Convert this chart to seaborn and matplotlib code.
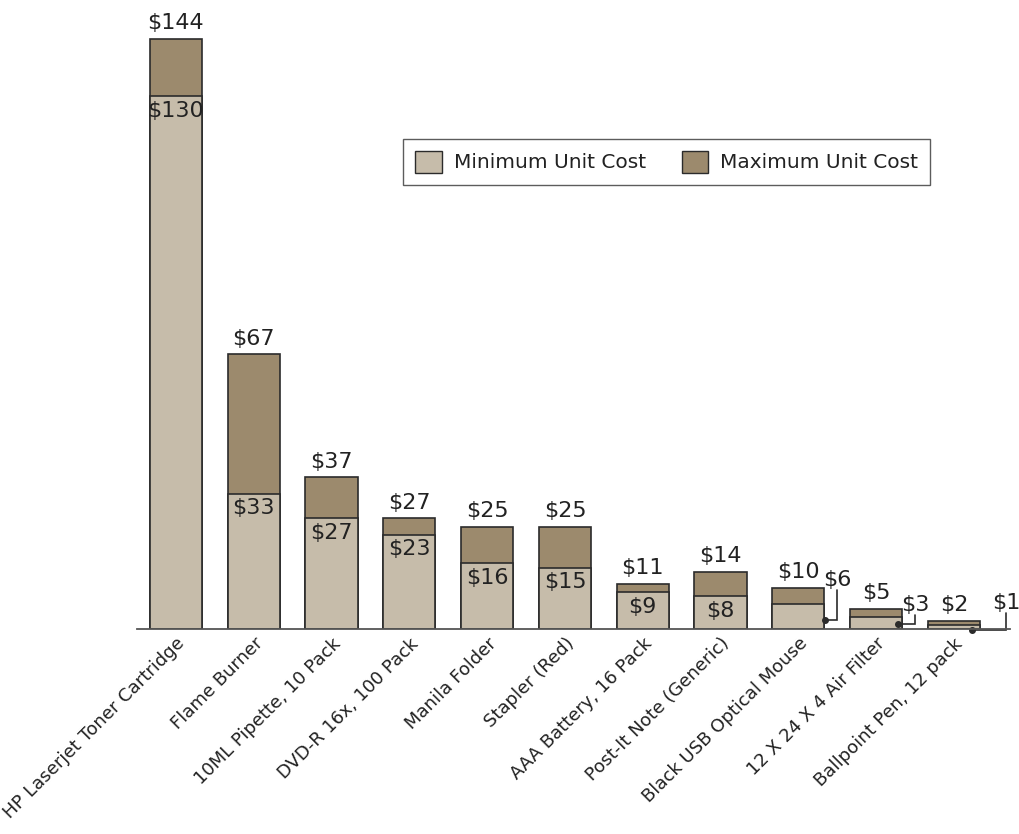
import matplotlib
matplotlib.use("Agg")
import matplotlib.pyplot as plt
import seaborn as sns
import pandas as pd
from matplotlib.patches import Patch

items = ["HP Laserjet Toner Cartridge", "Flame Burner", "10ML Pipette, 10 Pack",
         "DVD-R 16x, 100 Pack", "Manila Folder", "Stapler (Red)", "AAA Battery, 16 Pack",
         "Post-It Note (Generic)", "Black USB Optical Mouse", "12 X 24 X 4 Air Filter",
         "Ballpoint Pen, 12 pack"]
min_cost = [130, 33, 27, 23, 16, 15, 9, 8, 6, 3, 1]
max_cost = [144, 67, 37, 27, 25, 25, 11, 14, 10, 5, 2]

df = pd.DataFrame({"item": items, "min": min_cost, "max": max_cost})

sns.set_style("white")
plt.rcParams["font.family"] = ["DejaVu Sans"]

MIN_C = "#C6BCAA"
MAX_C = "#9C8A6D"
EDGE = "#2b2b2b"
TXT = "#222222"

fig = plt.figure(figsize=(10.2, 8.34), dpi=100)
ax = fig.add_axes([137 / 1020, 205 / 834, 873 / 1020, 624 / 834])

sns.barplot(data=df, x="item", y="max", color=MAX_C, width=0.67, edgecolor=EDGE,
            linewidth=1.2, saturation=1, ax=ax)
sns.barplot(data=df, x="item", y="min", color=MIN_C, width=0.67, edgecolor=EDGE,
            linewidth=1.2, saturation=1, ax=ax)

ax.set_xlim(-0.5, 10.72)
ax.set_ylim(0, 152.3)
ax.set_xlabel("")
ax.set_ylabel("")
ax.set_yticks([])
for s in ["top", "right", "left"]:
    ax.spines[s].set_visible(False)
ax.spines["bottom"].set_color("#555555")
ax.spines["bottom"].set_linewidth(1.3)
ax.tick_params(axis="x", length=0, pad=4)
ax.set_xticks(range(len(items)))
ax.set_xticklabels(items, rotation=45, ha="right", rotation_mode="anchor",
                   fontsize=13, color=TXT)

fs = 16
for i, (mn, mx) in enumerate(zip(min_cost, max_cost)):
    ax.text(i, mx + 1.4, f"${mx}", ha="center", va="bottom", fontsize=fs, color=TXT)

callouts = {8: (0.34, 0.5, 2.2, 9.6), 9: (0.28, 0.5, 1.2, 3.4), 10: (0.23, 0.67, -0.2, 3.8)}
for i, mn in enumerate(min_cost):
    if i in callouts:
        dx, ex, dy, ly = callouts[i]
        ax.plot([i + dx, i + ex, i + ex], [dy, dy, ly], color=EDGE, lw=1.2,
                solid_joinstyle="miter", clip_on=False)
        ax.plot([i + dx], [dy], "o", color=EDGE, ms=4, clip_on=False)
        ax.text(i + ex, ly, f"${mn}", ha="center", va="bottom", fontsize=fs, color=TXT)
    else:
        ax.text(i, mn - 1.1, f"${mn}", ha="center", va="top", fontsize=fs, color=TXT)

handles = [Patch(facecolor=MIN_C, edgecolor=EDGE, label="Minimum Unit Cost"),
           Patch(facecolor=MAX_C, edgecolor=EDGE, label="Maximum Unit Cost")]
leg = ax.legend(handles=handles, ncol=2, loc="center", bbox_to_anchor=(0.607, 0.749),
                fontsize=14.5, frameon=True, fancybox=False, edgecolor="#333333",
                handlelength=1.3, handleheight=1.3, columnspacing=1.8,
                borderpad=0.6, handletextpad=0.6)
leg.get_frame().set_linewidth(1.0)
for t in leg.get_texts():
    t.set_color(TXT)

fig.savefig("out.png", dpi=100)
